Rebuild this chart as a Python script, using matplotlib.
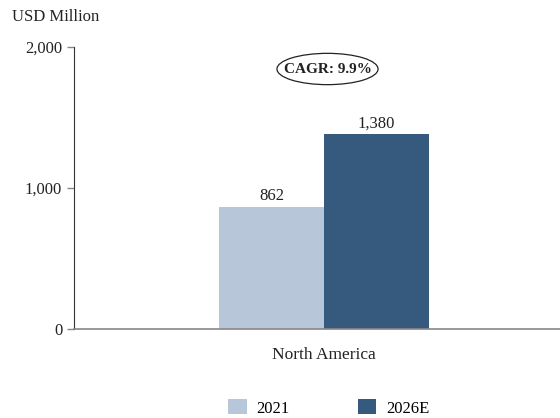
import matplotlib.pyplot as plt
from matplotlib.patches import Ellipse, Patch

plt.rcParams['font.family'] = ['Liberation Serif', 'DejaVu Serif']

region = ['North America']
years = ['2021', '2026E']
values = [862, 1380]
colors = ['#b7c6d9', '#365a7d']
yticks = [0, 1000, 2000]
cagr = 'CAGR: 9.9%'

fig = plt.figure(figsize=(5.6, 4.18), dpi=100)
ax = fig.add_axes([74/560, 1-329/418, 1-74/560, (329-47)/418])

w = 0.35
offs = [-w/2, w/2]
for i in range(len(years)):
    b = ax.bar(offs[i], values[i], width=w, color=colors[i], label=years[i])
    ax.text(offs[i], values[i] + 50, f'{values[i]:,}', ha='center', va='baseline',
            fontsize=12, color='#222222')

ax.set_xlim(-0.833, 0.787)
ax.set_ylim(0, 2000)
ax.set_yticks(yticks)
ax.set_yticklabels([f'{v:,}' for v in yticks], fontsize=12, color='#222222')
ax.set_xticks([0])
ax.set_xticklabels(region, fontsize=12.5, color='#222222')
ax.tick_params(axis='x', length=0, pad=13)
ax.tick_params(axis='y', length=5, width=1, color='#888888', pad=3.5)
for s in ['top', 'right']:
    ax.spines[s].set_visible(False)
ax.spines['left'].set_color('#333333')
ax.spines['bottom'].set_color('#888888')
ax.spines['bottom'].set_linewidth(1.2)

# CAGR bubble
e = Ellipse((0.012, 1844), 0.337, 222, facecolor='white', edgecolor='#222222', lw=0.9,
            clip_on=False)
ax.add_patch(e)
ax.text(0.012, 1838, cagr, ha='center', va='center', fontsize=11, fontweight='bold',
        color='#222222')

fig.text(12/560, 1-17/418, 'USD Million', fontsize=12, ha='left', va='center',
         color='#222222')

handles = [Patch(facecolor=c, edgecolor='none') for c in colors]
fig.legend(handles, years, loc='center', bbox_to_anchor=(329/560, 1-408/418), ncol=2,
           frameon=False, fontsize=12, handlelength=1.1, handleheight=1.0,
           columnspacing=4.1, handletextpad=0.6)

fig.savefig('out.png', dpi=100)
